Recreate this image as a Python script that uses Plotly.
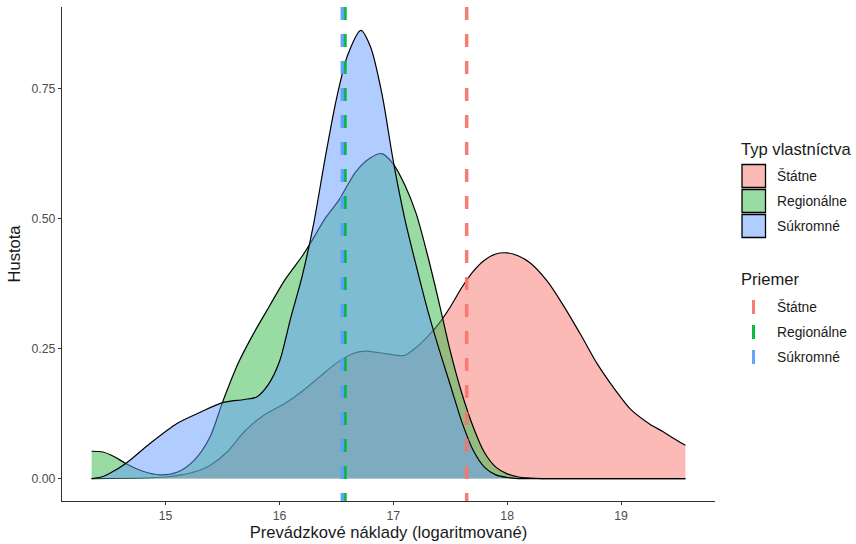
import plotly.graph_objects as go

# ---------------- data ----------------
groups = ["Štátne", "Regionálne", "Súkromné"]
line_colors = ["#F8766D", "#00BA38", "#619CFF"]
fill_colors = ["rgba(248,118,109,0.5)", "rgba(49,185,71,0.5)", "rgba(100,156,255,0.5)"]

x_statne = [14.35, 14.8, 15.0, 15.16, 15.3, 15.39, 15.54, 15.69, 15.85, 16.05, 16.2, 16.35,
            16.5, 16.64, 16.75, 16.88, 17.0, 17.1, 17.2, 17.3, 17.4, 17.5, 17.6, 17.7, 17.8,
            17.9, 18.0, 18.1, 18.2, 18.35, 18.49, 18.65, 18.79, 18.95, 19.08, 19.25, 19.37,
            19.47, 19.565]
y_statne = [0.0, 0.001, 0.003, 0.008, 0.016, 0.025, 0.051, 0.09, 0.12, 0.145, 0.168, 0.195,
            0.222, 0.24, 0.245, 0.242, 0.238, 0.237, 0.252, 0.273, 0.298, 0.33, 0.367, 0.398,
            0.42, 0.432, 0.434, 0.428, 0.415, 0.38, 0.334, 0.275, 0.221, 0.17, 0.134, 0.105,
            0.09, 0.076, 0.064]

x_regionalne = [14.35, 14.45, 14.55, 14.65, 14.8, 14.95, 15.1, 15.25, 15.39, 15.5, 15.64,
                15.76, 15.91, 16.05, 16.2, 16.27, 16.4, 16.52, 16.67, 16.8, 16.9, 17.0, 17.1,
                17.2, 17.3, 17.4, 17.5, 17.6, 17.7, 17.8, 17.9, 18.0, 18.1, 18.2, 18.3, 18.6,
                19.0, 19.565]
y_regionalne = [0.0525, 0.051, 0.042, 0.029, 0.014, 0.007, 0.012, 0.035, 0.08, 0.147, 0.223,
                0.274, 0.331, 0.383, 0.428, 0.452, 0.50, 0.535, 0.59, 0.617, 0.625, 0.605,
                0.565, 0.51, 0.43, 0.34, 0.245, 0.165, 0.10, 0.05, 0.022, 0.009, 0.003, 0.001,
                0.0, 0.0, 0.0, 0.0]

x_sukromne = [14.35, 14.45, 14.51, 14.65, 14.86, 15.1, 15.31, 15.5, 15.69, 15.8, 15.9, 16.0,
              16.1, 16.2, 16.3, 16.4, 16.5, 16.6, 16.715, 16.8, 16.9, 17.0, 17.1,
              17.2, 17.3, 17.4, 17.5, 17.6, 17.7, 17.8, 17.9, 18.0, 18.1, 18.3, 18.6, 19.0,
              19.565]
y_sukromne = [0.0, 0.004, 0.01, 0.029, 0.067, 0.106, 0.128, 0.146, 0.152, 0.157, 0.18, 0.225,
              0.31, 0.39, 0.49, 0.615, 0.73, 0.815, 0.862, 0.83, 0.74, 0.61, 0.50,
              0.41, 0.325, 0.25, 0.18, 0.11, 0.055, 0.022, 0.007, 0.002, 0.0, 0.0, 0.0, 0.0,
              0.0]

means = [17.644, 16.5755, 16.552]

x_ticks = [15, 16, 17, 18, 19]
y_ticks = [0.0, 0.25, 0.50, 0.75]
y_tick_labels = ["0.00", "0.25", "0.50", "0.75"]

x_title = "Prevádzkové náklady (logaritmované)"
y_title = "Hustota"
legend_fill_title = "Typ vlastníctva"
legend_mean_title = "Priemer"

# ---------------- layout geometry (pixels) ----------------
W, H = 856, 544
L, R, T, B = 62, 715, 7, 501
PW, PH = R - L, B - T


def px(x):
    return (x - L) / PW


def py(y):
    return (B - y) / PH


FONT = "Liberation Sans, Arial, Helvetica, sans-serif"
TITLE_SIZE = 16.6
TICK_SIZE = 12.3
LEG_SIZE = 13.8

fig = go.Figure()
xs = [x_statne, x_regionalne, x_sukromne]
ys = [y_statne, y_regionalne, y_sukromne]
for name, xv, yv, fc in zip(groups, xs, ys, fill_colors):
    fig.add_trace(go.Scatter(
        x=xv, y=yv, name=name, mode="lines",
        line=dict(color="black", width=1.2, shape="spline", smoothing=0.8),
        fill="tozeroy", fillcolor=fc, showlegend=False, hoverinfo="x+y+name",
    ))

shapes = []
# mean lines
for m, c in zip(means, line_colors):
    shapes.append(dict(type="line", xref="x", yref="paper", x0=m, x1=m, y0=1, y1=0,
                       line=dict(color=c, width=3.5, dash="13px,14px"), opacity=0.95,
                       layer="above"))

annotations = []
# legend: fill
annotations.append(dict(text=legend_fill_title, xref="paper", yref="paper", x=px(739.5), y=py(149),
                        xanchor="left", yanchor="middle", showarrow=False,
                        font=dict(size=TITLE_SIZE, color="#1a1a1a", family=FONT)))
key_centers = [176, 201, 226]
for name, fc, yc in zip(groups, fill_colors, key_centers):
    shapes.append(dict(type="rect", xref="paper", yref="paper",
                       x0=px(742), x1=px(765.5), y0=py(yc - 11.5), y1=py(yc + 11.5),
                       fillcolor=fc, line=dict(color="black", width=1.3), layer="above"))
    annotations.append(dict(text=name, xref="paper", yref="paper", x=px(774.5), y=py(yc),
                            xanchor="left", yanchor="middle", showarrow=False,
                            font=dict(size=LEG_SIZE, color="#1a1a1a", family=FONT)))
# legend: means
annotations.append(dict(text=legend_mean_title, xref="paper", yref="paper", x=px(739.5), y=py(279),
                        xanchor="left", yanchor="middle", showarrow=False,
                        font=dict(size=TITLE_SIZE, color="#1a1a1a", family=FONT)))
mean_centers = [307, 332, 357]
for name, c, yc in zip(groups, line_colors, mean_centers):
    shapes.append(dict(type="line", xref="paper", yref="paper",
                       x0=px(753.5), x1=px(753.5), y0=py(yc - 7), y1=py(yc + 7),
                       line=dict(color=c, width=3), opacity=0.95))
    annotations.append(dict(text=name, xref="paper", yref="paper", x=px(774.5), y=py(yc),
                            xanchor="left", yanchor="middle", showarrow=False,
                            font=dict(size=LEG_SIZE, color="#1a1a1a", family=FONT)))

fig.update_layout(
    width=W, height=H,
    margin=dict(l=L, r=W - R, t=T, b=H - B, pad=0, autoexpand=False),
    paper_bgcolor="white", plot_bgcolor="white",
    showlegend=False,
    font=dict(family=FONT, color="#1a1a1a"),
    shapes=shapes, annotations=annotations,
    xaxis=dict(
        range=[14.09, 19.825], showgrid=False, zeroline=False,
        showline=True, linecolor="#333333", linewidth=1.2,
        ticks="outside", ticklen=3, tickwidth=1, tickcolor="#333333",
        tickvals=x_ticks, ticktext=[str(v) for v in x_ticks],
        tickfont=dict(size=TICK_SIZE, color="#4D4D4D", family=FONT),
        title=dict(text=x_title, font=dict(size=TITLE_SIZE, color="#1a1a1a", family=FONT), standoff=4),
        automargin=False,
    ),
    yaxis=dict(
        range=[-0.0432, 0.907], showgrid=False, zeroline=False,
        showline=True, linecolor="#333333", linewidth=1.2,
        ticks="outside", ticklen=3, tickwidth=1, tickcolor="#333333",
        tickvals=y_ticks, ticktext=y_tick_labels,
        tickfont=dict(size=TICK_SIZE, color="#4D4D4D", family=FONT),
        title=dict(text=y_title, font=dict(size=TITLE_SIZE, color="#1a1a1a", family=FONT), standoff=6),
        automargin=False,
    ),
)

# remove the browser's default 8px page margin so the figure sits at the window origin
fig.write_html(
    "out.html",
    config={"displayModeBar": False},
    post_script="document.body.style.margin='0';document.body.style.overflow='hidden';",
)
